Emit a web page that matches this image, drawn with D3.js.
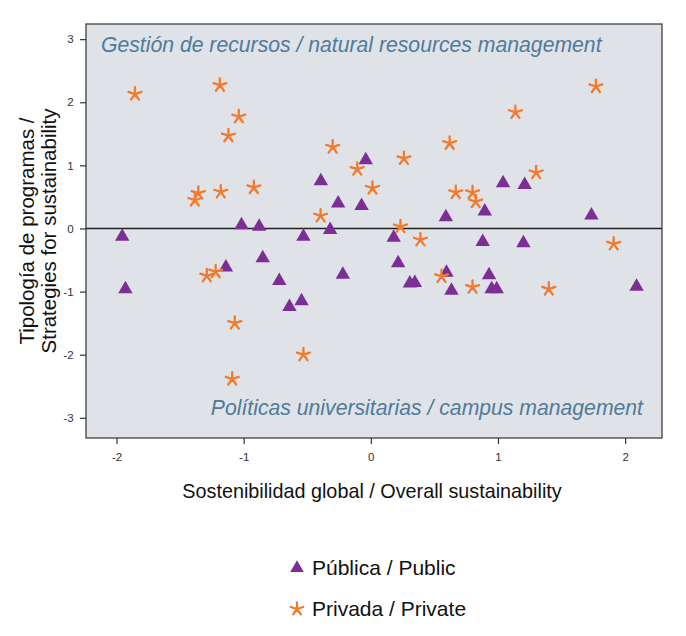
<!DOCTYPE html>
<html>
<head>
<meta charset="utf-8">
<script src="https://cdn.jsdelivr.net/npm/d3@7"></script>
<style>
  body { margin: 0; background: #fff; }
  svg text { font-family: "Liberation Sans", Arial, sans-serif; }
</style>
</head>
<body>
<div id="chart"></div>
<script>
// public universities (triangles): overall sustainability, strategies
const publicX = [-1.955, -1.93, -1.017, -0.878, -0.85, -1.14, -0.72, -0.545, -0.64, -0.53, -0.32,
  -0.22, -0.393, -0.257, -0.073, -0.04, 0.18, 0.215, 0.307, 0.346, 0.595, 0.634, 0.93, 0.95, 0.99,
  0.59, 0.896, 1.04, 1.21, 1.735, 0.88, 1.20, 2.09]
const publicY = [-0.13, -0.96, 0.055, 0.03, -0.47, -0.615, -0.83, -1.15, -1.24, -0.13, -0.02,
  -0.73, 0.75, 0.40, 0.36, 1.085, -0.145, -0.55, -0.87, -0.86, -0.70, -0.985, -0.74, -0.96, -0.96,
  0.18, 0.27, 0.72, 0.69, 0.21, -0.21, -0.23, -0.92]

// private universities (stars)
const privateX = [-1.855, -1.187, -1.038, -1.12, -0.30, -0.107, 0.013, -1.357, -1.384, -1.18, -0.92,
  -0.395, -1.29, -1.22, -1.07, -0.53, -1.09, 1.77, 1.137, 0.62, 0.26, 1.30, 0.668, 0.80, 0.825,
  0.233, 0.39, 1.91, 0.556, 0.80, 1.40]
const privateY = [2.13, 2.27, 1.77, 1.47, 1.29, 0.94, 0.64, 0.56, 0.45, 0.58, 0.65,
  0.20, -0.75, -0.685, -1.50, -2.00, -2.385, 2.25, 1.84, 1.35, 1.11, 0.885, 0.57, 0.57, 0.425,
  0.03, -0.18, -0.245, -0.76, -0.93, -0.96]

const xTicks = [-2, -1, 0, 1, 2]
const yTicks = [-3, -2, -1, 0, 1, 2, 3]
const seriesNames = ["Pública / Public", "Privada / Private"]

const W = 686, H = 636
const pLeft = 86, pRight = 662, pTop = 24, pBottom = 438

const svg = d3.select("#chart").append("svg")
  .attr("width", W)
  .attr("height", H)

const x = d3.scaleLinear().domain([-2.24, 2.29]).range([pLeft, pRight])
const y = d3.scaleLinear().domain([-3.32, 3.24]).range([pBottom, pTop])

const purple = "#7b2f96"
const orange = "#f27a2c"
const fmt = d => String(d)   // plain hyphen like the original

// plot background
svg.append("rect")
  .attr("x", pLeft).attr("y", pTop)
  .attr("width", pRight - pLeft).attr("height", pBottom - pTop)
  .attr("fill", "#dfe2e6")
  .attr("stroke", "#333").attr("stroke-width", 1.2)

// axes
const xAxis = svg.append("g")
  .attr("transform", `translate(0,${pBottom})`)
  .call(d3.axisBottom(x).tickValues(xTicks).tickSize(6).tickSizeOuter(0).tickFormat(fmt))
xAxis.select(".domain").remove()
xAxis.selectAll("line").attr("stroke", "#333").attr("stroke-width", 1.2)
xAxis.selectAll("text").attr("font-size", 11.5).attr("fill", "#333").attr("dy", "1.2em")

const yAxis = svg.append("g")
  .attr("transform", `translate(${pLeft},0)`)
  .call(d3.axisLeft(y).tickValues(yTicks).tickSize(6).tickSizeOuter(0).tickFormat(fmt))
yAxis.select(".domain").remove()
yAxis.selectAll("line").attr("stroke", "#333").attr("stroke-width", 1.2)
yAxis.selectAll("text").attr("font-size", 11.5).attr("fill", "#333").attr("dx", "-0.3em")

// reference line at zero
svg.append("line")
  .attr("x1", pLeft).attr("x2", pRight)
  .attr("y1", y(0)).attr("y2", y(0))
  .attr("stroke", "#222").attr("stroke-width", 1.6)

// quadrant annotations
svg.append("text")
  .attr("x", 101).attr("y", 52)
  .attr("font-size", 21.2).attr("font-style", "italic")
  .attr("fill", "#4f7b9c")
  .text("Gestión de recursos / natural resources management")

svg.append("text")
  .attr("x", 643).attr("y", 415)
  .attr("text-anchor", "end")
  .attr("font-size", 21.2).attr("font-style", "italic")
  .attr("fill", "#4f7b9c")
  .text("Políticas universitarias / campus management")

// asterisk-like star marker
function star(r) {
  const p = d3.path()
  for (let i = 0; i < 5; i++) {
    const a = -Math.PI / 2 + i * 2 * Math.PI / 5
    p.moveTo(0, 0)
    p.lineTo(r * Math.cos(a), r * Math.sin(a))
  }
  return p.toString()
}
const tri = d3.symbol().type(d3.symbolTriangle).size(90)

const pubData = publicX.map((v, i) => ({x: v, y: publicY[i]}))
const privData = privateX.map((v, i) => ({x: v, y: privateY[i]}))

svg.append("g").selectAll("path").data(pubData).enter()
  .append("path")
  .attr("d", tri)
  .attr("transform", d => `translate(${x(d.x)},${y(d.y)})`)
  .attr("fill", purple)

svg.append("g").selectAll("path").data(privData).enter()
  .append("path")
  .attr("d", star(6.8))
  .attr("transform", d => `translate(${x(d.x)},${y(d.y)})`)
  .attr("fill", "none")
  .attr("stroke", orange)
  .attr("stroke-width", 2.3)
  .attr("stroke-linecap", "round")

// axis titles
svg.append("text")
  .attr("x", 372).attr("y", 498)
  .attr("text-anchor", "middle")
  .attr("font-size", 19.8).attr("fill", "#111")
  .text("Sostenibilidad global / Overall sustainability")

const yt = svg.append("text")
  .attr("transform", "translate(34,231) rotate(-90)")
  .attr("text-anchor", "middle")
  .attr("font-size", 20.5).attr("fill", "#111")
yt.append("tspan").attr("x", 0).attr("dy", 0).text("Tipología de programas /")
yt.append("tspan").attr("x", 0).attr("dy", 21.5).text("Strategies for sustainability")

// legend
const legend = svg.append("g")
legend.append("path")
  .attr("d", d3.symbol().type(d3.symbolTriangle).size(80))
  .attr("transform", "translate(297,568)")
  .attr("fill", purple)
legend.append("text")
  .attr("x", 312).attr("y", 575)
  .attr("font-size", 21).attr("fill", "#111")
  .text(seriesNames[0])
legend.append("path")
  .attr("d", star(6.5))
  .attr("transform", "translate(297,609)")
  .attr("fill", "none").attr("stroke", orange)
  .attr("stroke-width", 2.3).attr("stroke-linecap", "round")
legend.append("text")
  .attr("x", 312).attr("y", 616)
  .attr("font-size", 21).attr("fill", "#111")
  .text(seriesNames[1])
</script>
</body>
</html>
